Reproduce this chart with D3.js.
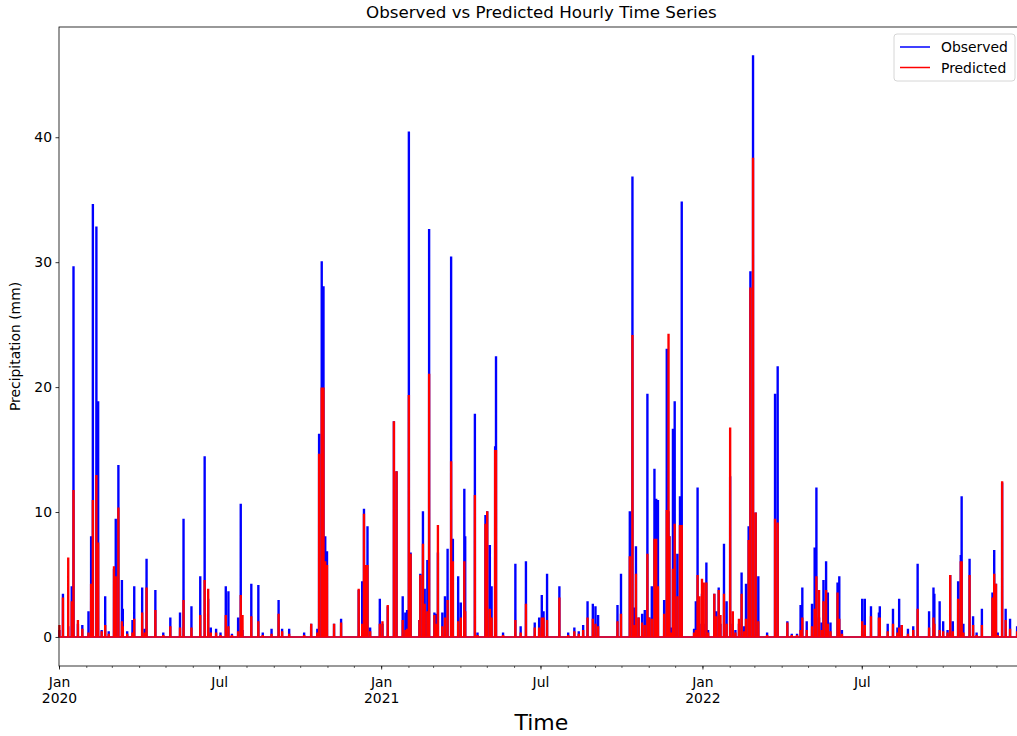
<!DOCTYPE html>
<html>
<head>
<meta charset="utf-8">
<script src="https://cdn.jsdelivr.net/npm/d3@7"></script>
<style>
  body { margin: 0; background: #fff; }
  svg text { font-family: "DejaVu Sans", sans-serif; fill: #000; }
</style>
</head>
<body>
<svg id="chart" width="1017" height="736"></svg>
<script>
// rain events: day, observed peak, predicted peak (mm)
var eventDates = [
  "2020-01-01","2020-01-05","2020-01-11","2020-01-15","2020-01-17","2020-01-22","2020-01-27","2020-02-03",
  "2020-02-06","2020-02-08","2020-02-12","2020-02-14","2020-02-18","2020-02-22","2020-02-26","2020-03-03",
  "2020-03-05","2020-03-08","2020-03-12","2020-03-13","2020-03-18","2020-03-24","2020-03-26","2020-04-04",
  "2020-04-07","2020-04-09","2020-04-19","2020-04-28","2020-05-06","2020-05-17","2020-05-21","2020-05-30",
  "2020-06-09","2020-06-14","2020-06-18","2020-06-21","2020-06-27","2020-07-02","2020-07-08","2020-07-11",
  "2020-07-15","2020-07-22","2020-07-25","2020-07-27","2020-08-06","2020-08-14","2020-08-19","2020-08-29",
  "2020-09-06","2020-09-10","2020-09-18","2020-10-05","2020-10-13","2020-10-20","2020-10-22","2020-10-25",
  "2020-10-27","2020-10-29","2020-10-31","2020-11-08","2020-11-16","2020-12-06","2020-12-10","2020-12-12",
  "2020-12-14","2020-12-16","2020-12-19","2020-12-30",
  "2021-01-02","2021-01-08","2021-01-15","2021-01-18","2021-01-25","2021-01-28","2021-01-30","2021-02-01",
  "2021-02-03","2021-02-13","2021-02-14","2021-02-17","2021-02-19","2021-02-22","2021-02-24","2021-03-02",
  "2021-03-04","2021-03-06","2021-03-11","2021-03-14","2021-03-17","2021-03-21","2021-03-23","2021-03-29",
  "2021-04-01","2021-04-05","2021-04-06","2021-04-17","2021-04-20","2021-04-29","2021-05-01","2021-05-04",
  "2021-05-06","2021-05-10","2021-05-11","2021-05-19","2021-06-02","2021-06-08","2021-06-14","2021-06-24",
  "2021-06-29","2021-07-02","2021-07-04","2021-07-08","2021-07-22","2021-08-01","2021-08-08","2021-08-13",
  "2021-08-18","2021-08-23","2021-08-29","2021-09-01","2021-09-04","2021-09-26","2021-09-30","2021-10-10",
  "2021-10-13","2021-10-15","2021-10-17","2021-10-20","2021-10-24","2021-10-27","2021-10-30","2021-11-01",
  "2021-11-04","2021-11-07","2021-11-09","2021-11-11","2021-11-18","2021-11-21","2021-11-23","2021-11-24",
  "2021-11-26","2021-11-28","2021-11-30","2021-12-03","2021-12-06","2021-12-08","2021-12-22","2021-12-24",
  "2021-12-26","2021-12-28","2021-12-31",
  "2022-01-02","2022-01-05","2022-01-07","2022-01-14","2022-01-16","2022-01-19","2022-01-21","2022-01-25",
  "2022-01-28","2022-02-01","2022-02-04","2022-02-07","2022-02-11","2022-02-14","2022-02-17","2022-02-19",
  "2022-02-22","2022-02-24","2022-02-27","2022-03-02","2022-03-05","2022-03-15","2022-03-24","2022-03-27",
  "2022-04-07","2022-04-12","2022-04-18","2022-04-22","2022-04-24","2022-04-29","2022-05-05","2022-05-08",
  "2022-05-10","2022-05-13","2022-05-16","2022-05-18","2022-05-21","2022-05-23","2022-05-26","2022-06-03",
  "2022-06-05","2022-06-08","2022-07-01","2022-07-04","2022-07-11","2022-07-20","2022-07-21","2022-07-30",
  "2022-08-05","2022-08-10","2022-08-12","2022-08-15","2022-08-22","2022-08-28","2022-09-02","2022-09-15",
  "2022-09-20","2022-09-21","2022-09-27","2022-10-01","2022-10-06","2022-10-09","2022-10-12","2022-10-18",
  "2022-10-21","2022-10-22","2022-10-24","2022-10-31","2022-11-04","2022-11-08","2022-11-14","2022-11-26",
  "2022-11-28","2022-11-30","2022-12-02","2022-12-07","2022-12-11","2022-12-16","2022-12-24"
];

var observed = [
  0.5, 3.4, 0.8, 4.0, 29.6, 1.0, 0.9, 2.0,
  8.0, 34.6, 32.8, 18.8, 0.5, 3.2, 0.4, 5.4,
  9.4, 13.7, 4.5, 2.2, 0.4, 1.3, 4.0, 3.9,
  0.6, 6.2, 3.7, 0.3, 1.5, 1.9, 9.4, 2.4,
  4.8, 14.4, 3.0, 0.7, 0.6, 0.3, 4.0, 3.6,
  0.2, 1.5, 10.6, 0.5, 4.2, 4.1, 0.3, 0.6,
  2.9, 0.6, 0.6, 0.3, 1.0, 0.6, 16.2, 30.0,
  28.0, 8.0, 6.8, 1.0, 1.4, 3.7, 4.4, 10.2,
  4.0, 8.8, 0.7, 3.0,
  1.0, 2.4, 17.2, 13.2, 3.2, 1.9, 2.1, 40.4,
  6.7, 1.3, 5.0, 10.0, 3.8, 6.1, 32.6, 1.9,
  1.8, 6.7, 1.9, 3.2, 7.0, 30.4, 7.8, 4.8,
  2.7, 11.8, 8.0, 17.8, 0.3, 9.7, 10.0, 7.3,
  4.0, 15.2, 22.4, 0.3, 5.8, 0.8, 6.0, 1.1,
  1.5, 3.3, 2.0, 5.0, 4.0, 0.3, 0.7, 0.4,
  0.9, 2.8, 2.6, 2.4, 1.7, 2.5, 5.0, 10.0,
  36.8, 2.3, 7.2, 1.5, 1.8, 2.1, 19.4, 1.5,
  4.0, 13.4, 11.0, 10.9, 2.9, 23.0, 10.0, 8.0,
  0.7, 16.6, 18.8, 6.6, 11.2, 34.8, 0.6, 2.8,
  11.9, 1.0, 3.4,
  1.0, 5.9, 0.5, 3.4, 2.0, 3.9, 1.0, 7.4,
  2.8, 12.8, 1.0, 0.5, 1.0, 5.1, 0.8, 4.2,
  8.8, 29.2, 46.5, 9.9, 4.8, 0.3, 19.4, 21.6,
  1.2, 0.2, 0.2, 2.5, 3.9, 1.2, 2.6, 7.1,
  11.9, 1.5, 1.1, 4.5, 6.0, 3.5, 1.1, 4.3,
  4.8, 0.5, 3.0, 3.0, 2.4, 1.9, 2.4, 1.0,
  2.2, 0.7, 3.0, 0.9, 0.6, 0.8, 5.8, 2.0,
  3.9, 3.4, 2.8, 1.2, 0.5, 4.9, 1.2, 4.4,
  6.5, 11.2, 1.0, 6.2, 1.6, 0.3, 2.2, 3.5,
  6.9, 4.2, 0.3, 12.3, 2.2, 1.4, 0.8
];

var predicted = [
  0.9, 3.1, 6.3, 2.8, 11.7, 1.3, 0.6, 0.3,
  4.2, 10.9, 12.9, 7.5, 0.4, 0.9, 0.2, 5.6,
  4.8, 10.3, 1.2, 0.8, 0.2, 0.3, 1.4, 1.9,
  0.3, 3.9, 2.1, 0.1, 0.8, 0.7, 2.9, 0.7,
  1.7, 4.5, 3.8, 0.3, 0.3, 0.1, 1.7, 0.8,
  0.1, 0.4, 3.3, 1.7, 1.6, 1.2, 0.1, 0.2,
  1.8, 0.4, 0.2, 0.1, 1.0, 0.3, 14.6, 19.9,
  19.9, 6.0, 5.7, 1.0, 1.1, 3.8, 1.0, 9.8,
  5.7, 5.7, 0.4, 1.0,
  1.2, 2.5, 17.2, 13.2, 1.3, 0.5, 0.6, 19.3,
  6.6, 1.3, 4.9, 7.4, 2.6, 2.0, 21.0, 1.7,
  1.0, 8.9, 0.8, 1.5, 2.9, 14.0, 6.0, 1.2,
  1.5, 6.0, 2.0, 11.3, 0.1, 9.0, 10.0, 2.2,
  1.5, 14.9, 14.9, 0.1, 1.3, 0.3, 2.6, 0.7,
  0.7, 1.5, 1.5, 1.3, 3.1, 0.1, 0.4, 0.2,
  0.5, 1.5, 1.4, 1.0, 0.8, 1.2, 1.8, 6.4,
  24.1, 0.9, 5.0, 1.5, 1.1, 0.9, 6.6, 1.5,
  1.4, 7.8, 7.8, 4.0, 1.8, 10.1, 24.2, 8.0,
  0.3, 5.4, 9.0, 3.2, 8.9, 8.9, 0.3, 0.5,
  4.9, 3.2, 4.6,
  4.3, 4.3, 0.3, 3.4, 1.6, 3.7, 1.7, 3.4,
  1.0, 16.7, 2.0, 0.3, 1.4, 3.4, 0.4, 1.4,
  7.7, 27.9, 38.3, 9.9, 1.2, 0.1, 9.4, 9.1,
  1.1, 0.1, 0.1, 0.5, 1.5, 0.5, 0.8, 2.2,
  4.8, 3.7, 0.5, 2.8, 3.7, 1.0, 0.4, 3.5,
  1.4, 0.2, 1.2, 0.9, 1.6, 1.5, 1.5, 0.4,
  1.0, 0.3, 0.7, 0.9, 0.2, 0.5, 2.2, 0.7,
  1.5, 1.0, 0.5, 0.4, 0.3, 4.9, 0.4, 3.0,
  6.0, 6.0, 0.3, 4.9, 0.9, 0.1, 0.9, 3.1,
  5.0, 4.2, 0.1, 12.4, 1.3, 0.6, 0.4
];

var yTicks = [0, 10, 20, 30, 40];
var xTickDates = ["2020-01-01","2020-07-01","2021-01-01","2021-07-01","2022-01-01","2022-07-01"];
var xTickLabels = [["Jan","2020"],["Jul"],["Jan","2021"],["Jul"],["Jan","2022"],["Jul"]];
var seriesNames = ["Observed", "Predicted"];
var seriesColors = ["#0000ff", "#ff0000"];

var parseDate = d3.utcParse("%Y-%m-%d");

var svg = d3.select("#chart"),
  margin = {top: 27, left: 59},
  height = 639,
  start = parseDate("2020-01-01"),
  end = parseDate("2023-01-01"),
  width = d3.utcDay.count(start, end) * (321.5 / 365.25),
  g = svg.append("g").attr("transform", "translate(" + margin.left + "," + margin.top + ")");

var x = d3.scaleUtc().domain([start, end]).range([0, width]);
var y = d3.scaleLinear().domain([-2.325, 48.825]).range([height, 0]);

// turn each event into a day-long hourly burst on a zero baseline
function buildSeries(values) {
  var pts = [{date: start, v: 0}];
  eventDates.forEach(function(s, i) {
    var t = parseDate(s);
    pts.push({date: t, v: 0});
    pts.push({date: d3.utcHour.offset(t, 1), v: values[i]});
    pts.push({date: d3.utcHour.offset(t, 22), v: values[i]});
    pts.push({date: d3.utcHour.offset(t, 23), v: 0});
  });
  pts.push({date: end, v: 0});
  return pts;
}

var line = d3.line()
  .x(function(d) { return x(d.date); })
  .y(function(d) { return y(d.v); });

[observed, predicted].forEach(function(vals, i) {
  g.append("path")
    .datum(buildSeries(vals))
    .attr("fill", "none")
    .attr("stroke", seriesColors[i])
    .attr("stroke-width", 1.6)
    .attr("d", line);
});

// minor month ticks
g.append("g")
  .attr("transform", "translate(0," + height + ")")
  .call(d3.axisBottom(x)
    .ticks(d3.utcMonth.every(1))
    .tickSize(2)
    .tickFormat(""))
  .call(function(a) { a.select(".domain").remove(); a.selectAll("line").attr("stroke-width", 0.6); });

// major ticks
var xAxis = g.append("g")
  .attr("transform", "translate(0," + height + ")")
  .call(d3.axisBottom(x)
    .tickValues(xTickDates.map(parseDate))
    .tickSize(3.5)
    .tickPadding(3.5)
    .tickFormat(""));
xAxis.select(".domain").remove();
xAxis.selectAll("line").attr("stroke-width", 0.8);
xAxis.selectAll(".tick").append("text")
  .attr("text-anchor", "middle")
  .style("font-size", "13.9px")
  .each(function(d, i) {
    var t = d3.select(this);
    xTickLabels[i].forEach(function(s, k) {
      t.append("tspan").attr("x", 0).attr("y", 21 + k * 16).text(s);
    });
  });

var yAxis = g.append("g")
  .call(d3.axisLeft(y)
    .tickValues(yTicks)
    .tickSize(3.5)
    .tickPadding(3.5));
yAxis.select(".domain").remove();
yAxis.selectAll("line").attr("stroke-width", 0.8);
yAxis.selectAll("text").style("font-size", "13.9px").attr("fill", "#000");

// spines
g.append("rect")
  .attr("width", width)
  .attr("height", height)
  .attr("fill", "none")
  .attr("stroke", "#000")
  .attr("stroke-width", 0.8);

svg.append("text")
  .attr("x", margin.left + width / 2)
  .attr("y", 18)
  .attr("text-anchor", "middle")
  .style("font-size", "16.7px")
  .text("Observed vs Predicted Hourly Time Series");

svg.append("text")
  .attr("x", margin.left + width / 2)
  .attr("y", 730)
  .attr("text-anchor", "middle")
  .style("font-size", "22px")
  .text("Time");

svg.append("text")
  .attr("transform", "translate(20," + (margin.top + height / 2) + ") rotate(-90)")
  .attr("text-anchor", "middle")
  .style("font-size", "13.9px")
  .text("Precipitation (mm)");

var legend = svg.append("g").attr("transform", "translate(894,34)");
legend.append("rect")
  .attr("width", 121)
  .attr("height", 47)
  .attr("rx", 3)
  .attr("fill", "#fff")
  .attr("fill-opacity", 0.8)
  .attr("stroke", "#cccccc")
  .attr("stroke-width", 0.8);
seriesNames.forEach(function(name, i) {
  legend.append("line")
    .attr("x1", 6).attr("x2", 36)
    .attr("y1", 13 + i * 20.5).attr("y2", 13 + i * 20.5)
    .attr("stroke", seriesColors[i])
    .attr("stroke-width", 1.5);
  legend.append("text")
    .attr("x", 47)
    .attr("y", 18 + i * 20.5)
    .style("font-size", "13.9px")
    .text(name);
});
</script>
</body>
</html>
